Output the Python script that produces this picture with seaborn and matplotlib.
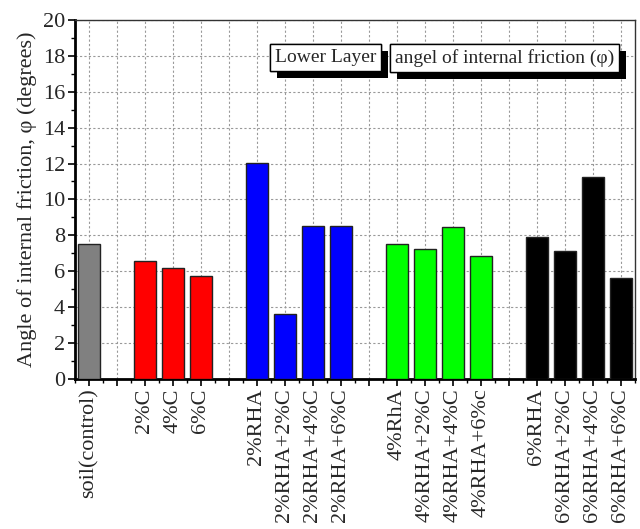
import matplotlib
matplotlib.use("Agg")
import matplotlib.pyplot as plt
import matplotlib.patheffects as pe
from matplotlib.ticker import MultipleLocator
import numpy as np
import pandas as pd
import seaborn as sns

# Mixes, grouped by additive series
groups = ["control", "cement", "2%RHA", "4%RHA", "6%RHA"]
labels_control = ["soil(control)"]
labels_cement = ["2%C", "4%C", "6%C"]
labels_rha2 = ["2%RHA", "2%RHA+2%C", "2%RHA+4%C", "2%RHA+6%C"]
labels_rha4 = ["4%RhA", "4%RHA+2%C", "4%RHA+4%C", "4%RHA+6%c"]
labels_rha6 = ["6%RHA", "6%RHA+2%C", "6%RHA+4%C", "6%RHA+6%C"]

# Angle of internal friction (degrees)
phi_control = [7.5]
phi_cement = [6.55, 6.17, 5.71]
phi_rha2 = [12.05, 3.62, 8.52, 8.52]
phi_rha4 = [7.5, 7.23, 8.45, 6.86]
phi_rha6 = [7.9, 7.14, 11.24, 5.63]

group_colors = ["#808080", "#FF0000", "#0000FF", "#00FF00", "#000000"]

# Build a table with one empty slot between groups
rows = []
pos = 0
all_labels = [labels_control, labels_cement, labels_rha2, labels_rha4, labels_rha6]
all_phi = [phi_control, phi_cement, phi_rha2, phi_rha4, phi_rha6]
for gi, (g, labs, vals) in enumerate(zip(groups, all_labels, all_phi)):
    if gi > 0:
        pos += 1
    for lab, v in zip(labs, vals):
        rows.append({"pos": pos, "label": lab, "phi": v, "group": g})
        pos += 1
df = pd.DataFrame(rows)

sns.set_style("white")
plt.rcParams["font.family"] = ["Liberation Serif", "DejaVu Serif"]

fig, ax = plt.subplots(figsize=(6.4, 5.29), dpi=100)
fig.subplots_adjust(left=0.117, right=0.992, top=0.962, bottom=0.284)

sns.barplot(data=df, x="pos", y="phi", hue="group", hue_order=groups,
            palette=group_colors, saturation=1, native_scale=True, dodge=False,
            width=0.8, edgecolor="#222222", linewidth=1.0, legend=False,
            ax=ax, zorder=3)

n_slots = pos
ax.set_xlim(-0.5, n_slots - 0.5)
ax.set_ylim(0, 20)

tick_pos = list(range(n_slots))
lab_map = dict(zip(df["pos"], df["label"]))
tick_lab = [lab_map.get(p, "") for p in tick_pos]
ax.set_xticks(tick_pos)
ax.set_xticklabels(tick_lab, rotation=90, fontsize=16)
ax.xaxis.set_minor_locator(MultipleLocator(1, offset=0.5))

ax.yaxis.set_major_locator(MultipleLocator(2))
ax.yaxis.set_minor_locator(MultipleLocator(1))
ax.tick_params(axis="y", labelsize=16)

ax.tick_params(which="major", direction="out", length=5, width=1.2, color="black",
               bottom=True, left=True, pad=2)
ax.tick_params(which="minor", direction="out", length=3, width=1.0, color="black",
               bottom=True, left=True)

ax.grid(True, which="major", axis="both", color="#999999", linestyle=(0, (2, 2)),
        linewidth=0.8, zorder=0)
ax.set_axisbelow(True)

for side in ["left", "bottom"]:
    ax.spines[side].set_linewidth(2.0)
    ax.spines[side].set_color("black")
for side in ["top", "right"]:
    ax.spines[side].set_linewidth(1.0)
    ax.spines[side].set_color("#333333")
    ax.spines[side].set_visible(True)

ax.set_xlabel("")
ax.set_ylabel("Angle of internal friction, φ (degrees)", fontsize=16, labelpad=4)

shadow = [pe.withSimplePatchShadow(offset=(5, -5), shadow_rgbFace="black", alpha=1.0),
          pe.Normal()]
for txt, x in [("Lower Layer", 0.357), ("angel of internal friction (φ)", 0.571)]:
    t = ax.text(x, 0.895, txt, transform=ax.transAxes, fontsize=14,
                ha="left", va="center", zorder=6,
                bbox=dict(boxstyle="square,pad=0.25", facecolor="white",
                          edgecolor="black", linewidth=1.0))
    t.get_bbox_patch().set_path_effects(shadow)

fig.savefig("out.png", dpi=100)
